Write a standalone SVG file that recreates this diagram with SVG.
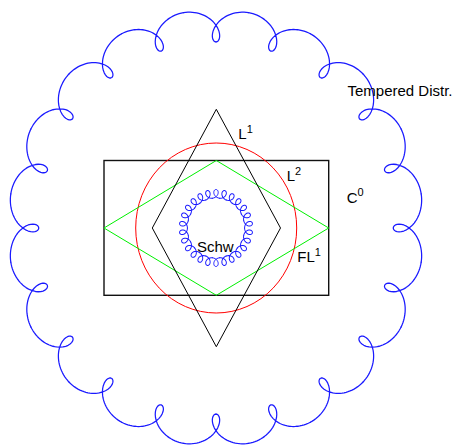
<svg xmlns="http://www.w3.org/2000/svg" xmlns:xlink="http://www.w3.org/1999/xlink" width="457" height="446" viewBox="0 0 457 446">
<style>
.lbl{font-family:"Liberation Sans",Arial,Helvetica,sans-serif;font-size:15px;fill:#000}
.sup{font-size:11px}
.blue{fill:none;stroke:#1a1aff;stroke-linejoin:round;stroke-linecap:round}
</style>
<defs>
<path id="lobe" d="M215.32,-34.10 L215.61,-31.78 L215.78,-29.44 L215.80,-27.11 L215.68,-24.79 L215.44,-22.50 L215.05,-20.24 L214.55,-18.04 L213.91,-15.90 L213.17,-13.84 L212.31,-11.85 L211.35,-9.96 L210.30,-8.17 L209.16,-6.49 L207.96,-4.92 L206.69,-3.47 L205.37,-2.15 L202.63,0.10 L199.84,1.82 L197.08,3.01 L194.46,3.68 L192.07,3.88 L189.99,3.66 L188.29,3.07 L187.03,2.21 L186.26,1.15 L186,0 L186.26,-1.15 L187.03,-2.21 L188.29,-3.07 L189.99,-3.66 L192.07,-3.88 L194.46,-3.68 L197.08,-3.01 L199.84,-1.82 L202.63,-0.10 L205.37,2.15 L206.69,3.47 L207.96,4.92 L209.16,6.49 L210.30,8.17 L211.35,9.96 L212.31,11.85 L213.17,13.84 L213.91,15.90 L214.55,18.04 L215.05,20.24 L215.44,22.50 L215.68,24.79 L215.80,27.11 L215.78,29.44 L215.61,31.78 L215.32,34.10"/>
<path id="coil" d="M29.78,-3.62 L30.08,-2.24 L30.63,-0.96 L31.39,0.17 L32.32,1.08 L33.36,1.76 L34.45,2.17 L35.51,2.32 L36.49,2.21 L37.33,1.88 L37.97,1.36 L38.36,0.71 L38.5,0 L38.36,-0.71 L37.97,-1.36 L37.33,-1.88 L36.49,-2.21 L35.51,-2.32 L34.45,-2.17 L33.36,-1.76 L32.32,-1.08 L31.39,-0.17 L30.63,0.96 L30.08,2.24 L29.78,3.62"/>
</defs>
<g id="C0">
<rect x="104" y="160.5" width="224.7" height="134.8" fill="none" stroke="#111" stroke-width="1.4"/>
</g>
<g id="L2">
<ellipse cx="216.2" cy="228" rx="80.5" ry="85" fill="none" stroke="#ff0000" stroke-width="1"/>
</g>
<g id="FL1">
<polygon points="104,228 216.3,160.5 328.7,228 216.3,295.3" fill="none" stroke="#00f000" stroke-width="1"/>
</g>
<g id="L1">
<polygon points="216.3,109.3 280.5,228 216.3,346.7 152.3,228" fill="none" stroke="#000" stroke-width="1"/>
</g>
<g id="TemperedDistr">
<g class="blue" stroke-width="1.3" transform="translate(216,228) scale(0.953,1)">
<use xlink:href="#lobe" transform="rotate(0)"/>
<use xlink:href="#lobe" transform="rotate(18)"/>
<use xlink:href="#lobe" transform="rotate(36)"/>
<use xlink:href="#lobe" transform="rotate(54)"/>
<use xlink:href="#lobe" transform="rotate(72)"/>
<use xlink:href="#lobe" transform="rotate(90)"/>
<use xlink:href="#lobe" transform="rotate(108)"/>
<use xlink:href="#lobe" transform="rotate(126)"/>
<use xlink:href="#lobe" transform="rotate(144)"/>
<use xlink:href="#lobe" transform="rotate(162)"/>
<use xlink:href="#lobe" transform="rotate(180)"/>
<use xlink:href="#lobe" transform="rotate(198)"/>
<use xlink:href="#lobe" transform="rotate(216)"/>
<use xlink:href="#lobe" transform="rotate(234)"/>
<use xlink:href="#lobe" transform="rotate(252)"/>
<use xlink:href="#lobe" transform="rotate(270)"/>
<use xlink:href="#lobe" transform="rotate(288)"/>
<use xlink:href="#lobe" transform="rotate(306)"/>
<use xlink:href="#lobe" transform="rotate(324)"/>
<use xlink:href="#lobe" transform="rotate(342)"/>
</g>
</g>
<g id="Schw">
<g class="blue" stroke-width="1" transform="translate(216,228) scale(0.953,1)">
<use xlink:href="#coil" transform="rotate(6.923)"/>
<use xlink:href="#coil" transform="rotate(20.769)"/>
<use xlink:href="#coil" transform="rotate(34.615)"/>
<use xlink:href="#coil" transform="rotate(48.462)"/>
<use xlink:href="#coil" transform="rotate(62.308)"/>
<use xlink:href="#coil" transform="rotate(76.154)"/>
<use xlink:href="#coil" transform="rotate(90)"/>
<use xlink:href="#coil" transform="rotate(103.846)"/>
<use xlink:href="#coil" transform="rotate(117.692)"/>
<use xlink:href="#coil" transform="rotate(131.538)"/>
<use xlink:href="#coil" transform="rotate(145.385)"/>
<use xlink:href="#coil" transform="rotate(159.231)"/>
<use xlink:href="#coil" transform="rotate(173.077)"/>
<use xlink:href="#coil" transform="rotate(186.923)"/>
<use xlink:href="#coil" transform="rotate(200.769)"/>
<use xlink:href="#coil" transform="rotate(214.615)"/>
<use xlink:href="#coil" transform="rotate(228.462)"/>
<use xlink:href="#coil" transform="rotate(242.308)"/>
<use xlink:href="#coil" transform="rotate(256.154)"/>
<use xlink:href="#coil" transform="rotate(270)"/>
<use xlink:href="#coil" transform="rotate(283.846)"/>
<use xlink:href="#coil" transform="rotate(297.692)"/>
<use xlink:href="#coil" transform="rotate(311.538)"/>
<use xlink:href="#coil" transform="rotate(325.385)"/>
<use xlink:href="#coil" transform="rotate(339.231)"/>
<use xlink:href="#coil" transform="rotate(353.077)"/>
</g>
</g>
<g id="labels">
<text class="lbl" x="347.5" y="96">Tempered Distr.</text>
<text class="lbl" x="238.3" y="139.3">L<tspan class="sup" dy="-6">1</tspan></text>
<text class="lbl" x="286.7" y="181">L<tspan class="sup" dy="-6">2</tspan></text>
<text class="lbl" x="346.7" y="202.7">C<tspan class="sup" dy="-7">0</tspan></text>
<text class="lbl" x="297.3" y="261.7">FL<tspan class="sup" dy="-6">1</tspan></text>
<text class="lbl" x="197" y="252">Schw</text>
</g>
</svg>
